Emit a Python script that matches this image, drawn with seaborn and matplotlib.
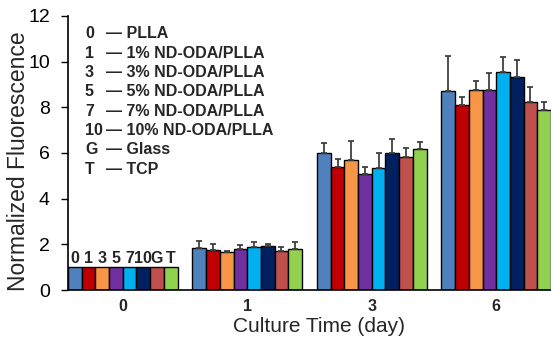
import pandas as pd
import seaborn as sns
import matplotlib.pyplot as plt

# values
days = ['0', '1', '3', '6']
samples = ['0', '1', '3', '5', '7', '10', 'G', 'T']
sample_names = ['PLLA', '1% ND-ODA/PLLA', '3% ND-ODA/PLLA', '5% ND-ODA/PLLA',
                '7% ND-ODA/PLLA', '10% ND-ODA/PLLA', 'Glass', 'TCP']
colors = ['#4F81BD', '#C00000', '#F79646', '#7030A0',
          '#00B0F0', '#002060', '#C0504D', '#92D050']

# mean fluorescence per sample, one list per day
day0 = [1.0, 1.0, 1.0, 1.0, 1.0, 1.0, 1.0, 1.0]
day1 = [1.83, 1.74, 1.65, 1.78, 1.88, 1.93, 1.69, 1.78]
day3 = [6.00, 5.37, 5.68, 5.07, 5.33, 6.00, 5.81, 6.19]
day6 = [8.70, 8.09, 8.76, 8.76, 9.55, 9.33, 8.23, 7.87]
# upward standard deviation
err0 = [0, 0, 0, 0, 0, 0, 0, 0]
err1 = [0.33, 0.26, 0.04, 0.20, 0.21, 0.10, 0.18, 0.31]
err3 = [0.42, 0.38, 0.86, 0.33, 0.67, 0.61, 0.42, 0.28]
err6 = [1.54, 0.38, 0.38, 0.76, 0.64, 0.74, 0.65, 0.38]

means = [day0, day1, day3, day6]
errs = [err0, err1, err3, err6]

rows = []
for d, m, e in zip(days, means, errs):
    for s, v, sd in zip(samples, m, e):
        rows.append({'Day': d, 'Sample': s, 'Value': v, 'SD': sd})
df = pd.DataFrame(rows)

sns.set_style('white')
plt.rcParams['font.family'] = ['Liberation Sans', 'DejaVu Sans']

fig = plt.figure(figsize=(5.51, 3.39), dpi=100)
ax = fig.add_axes([0.1234, 0.1445, 0.8766, 0.8085])

sns.barplot(data=df, x='Day', y='Value', hue='Sample', order=days,
            hue_order=samples, palette=colors, saturation=1, width=0.88,
            edgecolor='black', linewidth=1, errorbar=None, legend=False, ax=ax)

# one-sided error bars on top of each bar (skip day 0)
for cont, s in zip(ax.containers, samples):
    sub = df[df['Sample'] == s].set_index('Day').loc[days]
    for bar, (day, r) in zip(cont.patches, sub.iterrows()):
        if r['SD'] <= 0:
            continue
        xc = bar.get_x() + bar.get_width() / 2
        ax.errorbar(xc, r['Value'], yerr=[[0], [r['SD']]], fmt='none',
                    ecolor='#404040', elinewidth=1.3, capsize=2.5, capthick=1.3,
                    zorder=1)

# sample codes above the day-0 bars
for cont, s in zip(ax.containers, samples):
    bar = cont.patches[0]
    ax.text(bar.get_x() + bar.get_width() / 2, bar.get_height() + 0.07, s,
            ha='center', va='bottom', fontsize=11.5, fontweight='bold')

# key in the upper left
for i, (s, name) in enumerate(zip(samples, sample_names)):
    y = 0.935 - i * 0.0705
    ax.text(0.035, y, s, transform=ax.transAxes, fontsize=11.5,
            fontweight='bold', va='center', ha='left')
    ax.text(0.078, y, '\u2014 ' + name, transform=ax.transAxes, fontsize=11.5,
            fontweight='bold', va='center', ha='left')

ax.set_xlim(-0.44, 3.44)
ax.set_ylim(0, 12)
ax.set_yticks([0, 2, 4, 6, 8, 10, 12])
ax.tick_params(axis='y', which='both', left=True, direction='out', length=5,
               width=1, labelsize=14, pad=8, colors='black')
ax.tick_params(axis='x', bottom=False, labelsize=11.5, pad=3)
for lab in ax.get_xticklabels():
    lab.set_fontweight('bold')

ax.set_xlabel('Culture Time (day)', fontsize=15)
ax.xaxis.set_label_coords(0.52, -0.1)
ax.set_ylabel('Normalized Fluorescence', fontsize=16.5)
ax.yaxis.set_label_coords(-0.078, 0.47)

for side in ['top', 'right']:
    ax.spines[side].set_visible(False)
for side in ['left', 'bottom']:
    ax.spines[side].set_color('black')
    ax.spines[side].set_linewidth(1.2)

fig.savefig('out.png', dpi=100)
